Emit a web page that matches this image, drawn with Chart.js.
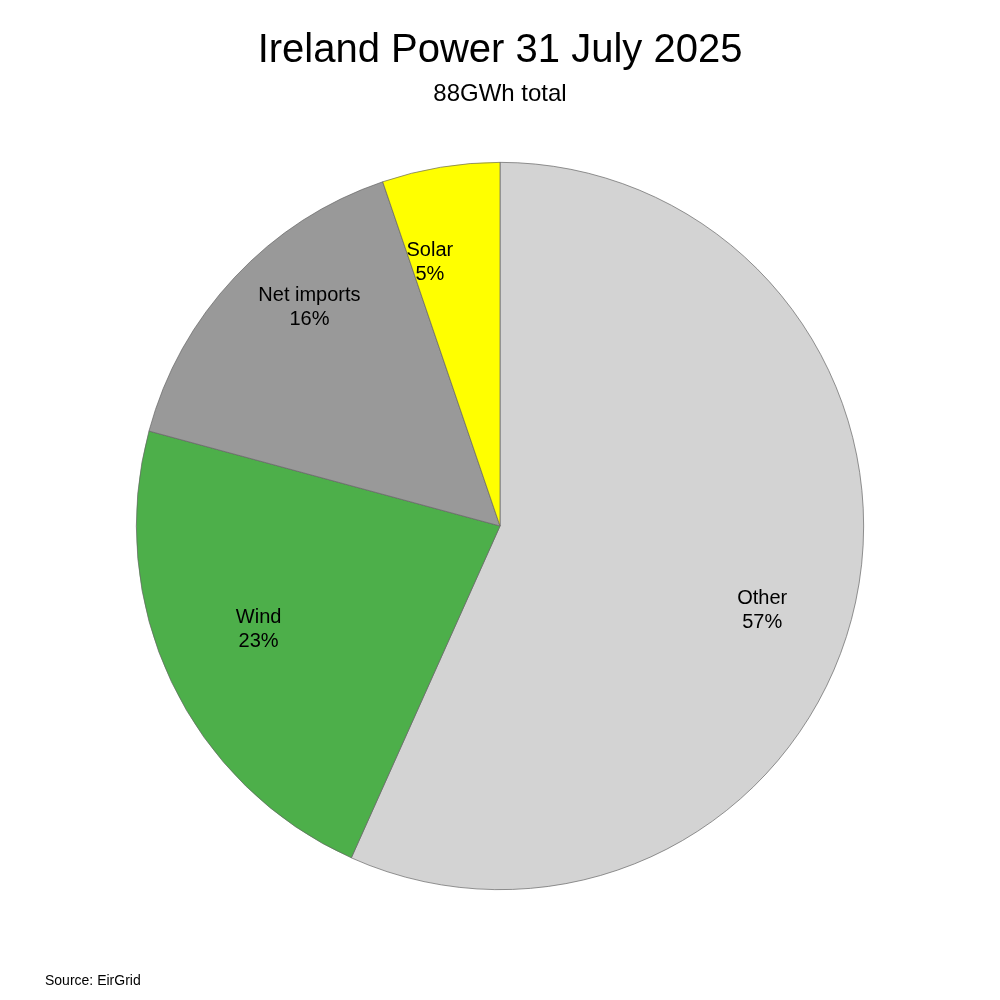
<!DOCTYPE html>
<html>
<head>
<meta charset="utf-8">
<script src="https://cdn.jsdelivr.net/npm/chart.js@4/dist/chart.umd.min.js"></script>
<style>
  html, body { margin: 0; padding: 0; background: #fff; }
  #wrap { width: 1000px; height: 1000px; }
</style>
</head>
<body>
<div id="wrap"><canvas id="powerChart" width="1000" height="1000"></canvas></div>
<script>
// Energy by source, GWh (88 GWh total)
const sources = ['Other', 'Wind', 'Net imports', 'Solar'];
const energyGWh = [49.9, 19.8, 13.7, 4.6];
const sliceColors = ['#d3d3d3', '#4daf4a', '#999999', '#ffff00'];

// small nudges for the in-slice labels (degrees, fraction of radius)
const labelAngleNudge = [5.7, 2.2, 5.8, -5.5];
const labelRadiusFrac = [0.757, 0.722, 0.798, 0.75];

const titleText = 'Ireland Power 31 July 2025';
const subtitleText = '88GWh total';
const sourceText = 'Source: EirGrid';

const FONT = '"Liberation Sans", Arial, Helvetica, sans-serif';

// draws titles, footnote and the in-slice labels
const textPlugin = {
    id: 'textPlugin',
    afterDraw(chart) {
        const ctx = chart.ctx;
        ctx.save();
        ctx.fillStyle = '#000';
        ctx.textAlign = 'center';
        ctx.textBaseline = 'alphabetic';

        ctx.font = '40px ' + FONT;
        ctx.fillText(titleText, 500, 62);
        ctx.font = '24px ' + FONT;
        ctx.fillText(subtitleText, 500, 101);

        const total = energyGWh.reduce((a, b) => a + b, 0);
        const meta = chart.getDatasetMeta(0);
        ctx.font = '20px ' + FONT;
        ctx.textBaseline = 'middle';
        meta.data.forEach((arc, i) => {
            const mid = (arc.startAngle + arc.endAngle) / 2 + labelAngleNudge[i] * Math.PI / 180;
            const r = arc.outerRadius * labelRadiusFrac[i];
            const x = arc.x + Math.cos(mid) * r;
            const y = arc.y + Math.sin(mid) * r;
            const pct = Math.round(energyGWh[i] / total * 100) + '%';
            ctx.fillText(sources[i], x, y - 12);
            ctx.fillText(pct, x, y + 12);
        });

        ctx.textAlign = 'left';
        ctx.textBaseline = 'alphabetic';
        ctx.font = '14px ' + FONT;
        ctx.fillText(sourceText, 45, 985);
        ctx.restore();
    }
};

new Chart(document.getElementById('powerChart'), {
    type: 'pie',
    data: {
        labels: sources,
        datasets: [{
            data: energyGWh,
            backgroundColor: sliceColors,
            borderColor: '#666666',
            borderWidth: 0.7
        }]
    },
    options: {
        responsive: false,
        animation: false,
        layout: { padding: { top: 162, bottom: 110, left: 136, right: 136 } },
        plugins: {
            legend: { display: false },
            tooltip: { enabled: false },
            title: { display: false }
        }
    },
    plugins: [textPlugin]
});
</script>
</body>
</html>
